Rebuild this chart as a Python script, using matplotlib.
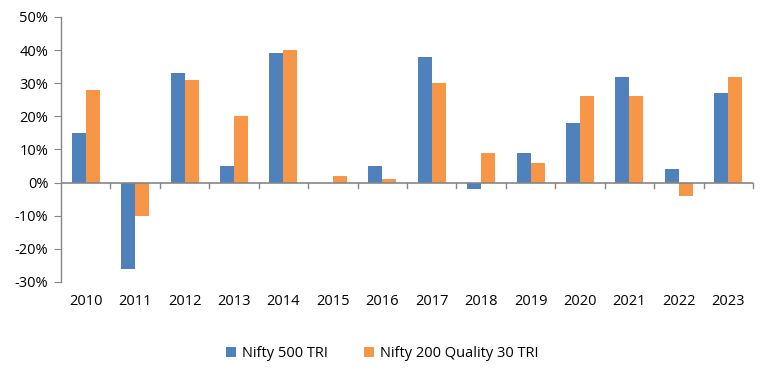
import matplotlib
matplotlib.use("Agg")
import matplotlib.pyplot as plt
import numpy as np
from matplotlib.ticker import FuncFormatter

years = ["2010", "2011", "2012", "2013", "2014", "2015", "2016",
         "2017", "2018", "2019", "2020", "2021", "2022", "2023"]
nifty500 = [15, -26, 33, 5, 39, 0, 5, 38, -2, 9, 18, 32, 4, 27]
quality30 = [28, -10, 31, 20, 40, 2, 1, 30, 9, 6, 26, 26, -4, 32]
series_names = ["Nifty 500 TRI", "Nifty 200 Quality 30 TRI"]

plt.rcParams['font.family'] = ['Open Sans', 'DejaVu Sans']
fig = plt.figure(figsize=(7.64, 3.77), dpi=100)
ax = fig.add_axes([0.0798, 0.252, 0.9058, 0.703])

x = np.arange(len(years))
w = 0.283
grey = "#868686"
b1 = ax.bar(x - w/2, nifty500, w, color="#4F81BD", label=series_names[0])
b2 = ax.bar(x + w/2, quality30, w, color="#F79646", label=series_names[1])

ax.set_xlim(-0.5, len(years) - 0.5)
ax.set_ylim(-30, 50)
ax.set_yticks(np.arange(-30, 51, 10))
ax.yaxis.set_major_formatter(FuncFormatter(lambda v, p: f"{int(v)}%"))
ax.tick_params(axis='y', length=5, color=grey, labelsize=10.5, pad=4)

for s in ["top", "right", "bottom"]:
    ax.spines[s].set_visible(False)
ax.spines["left"].set_color(grey)
ax.spines["left"].set_linewidth(1)

# zero line with category boundary ticks
ax.axhline(0, color=grey, lw=1.2, zorder=3)
ax.set_xticks([])
for b in np.arange(0.5, len(years), 1.0):
    ax.plot([b, b], [0, -1.5], color=grey, lw=1, clip_on=False, zorder=3)

for xi, lab in zip(x, years):
    ax.text(xi, -0.072, lab, transform=ax.get_xaxis_transform(),
            ha='center', va='center', fontsize=10.5)

fig.legend(handles=[b1, b2], labels=series_names, loc='center',
           bbox_to_anchor=(0.5, 0.063), ncol=2, frameon=False,
           fontsize=10.5, handlelength=0.7, handleheight=0.7,
           columnspacing=2.5, handletextpad=0.4)

fig.savefig("out.png", dpi=100)
